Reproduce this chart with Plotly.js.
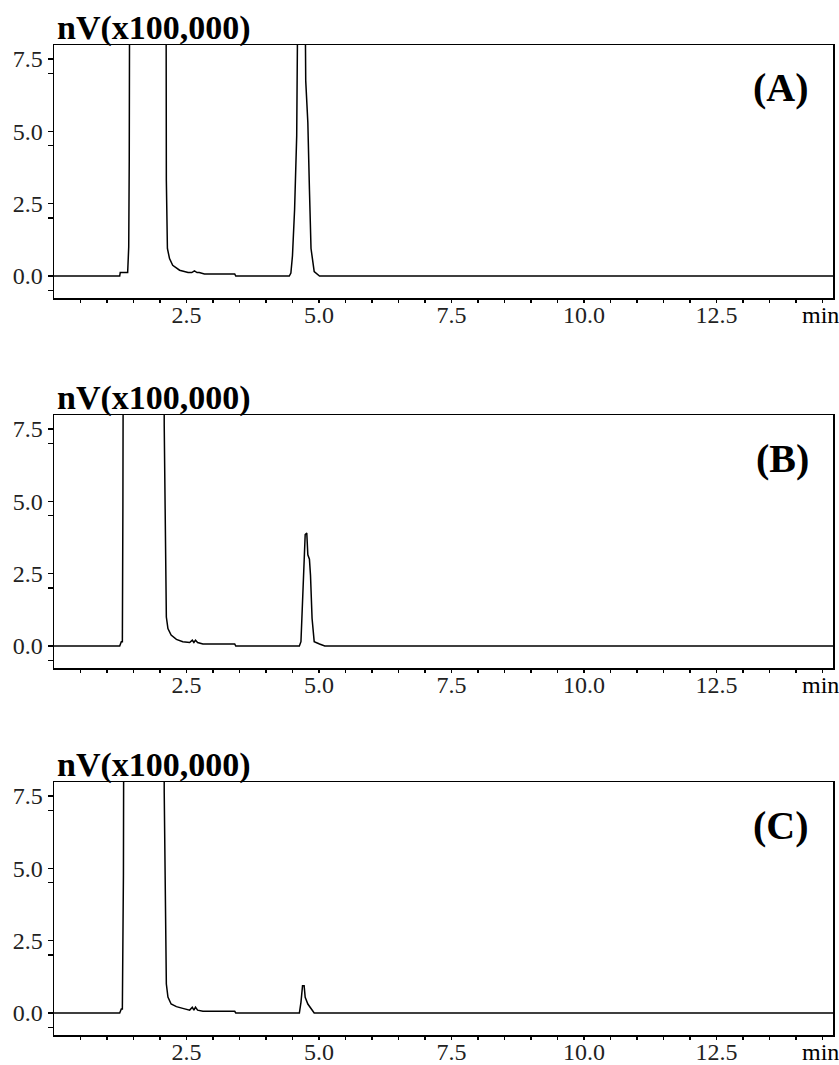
<!DOCTYPE html>
<html>
<head>
<meta charset="utf-8">
<script src="https://cdn.plot.ly/plotly-3.0.1.min.js"></script>
<style>
html,body{margin:0;padding:0;background:#fff;}
#chart{width:839px;height:1065px;}
</style>
</head>
<body>
<div id="chart"></div>
<script>
// Retention time (min) and detector signal (nV x 100,000) for each chromatogram
const timeA = [0, 1.24, 1.25, 1.39, 1.41, 1.42, 1.45, 2.10, 2.12, 2.14, 2.18, 2.24, 2.37, 2.53, 2.60, 2.65, 2.70, 2.74, 2.84, 3.41, 3.43,
               4.44, 4.47, 4.50, 4.54, 4.58, 4.61, 4.73, 4.75, 4.79, 4.82, 4.85, 4.91, 5.01, 14.7];
const signalA = [0, 0, 0.12, 0.12, 1.0, 4.0, 30, 30, 3.3, 0.95, 0.6, 0.37, 0.2, 0.12, 0.12, 0.18, 0.12, 0.12, 0.07, 0.07, 0,
                 0, 0.1, 0.7, 2.3, 4.85, 12, 12, 6.75, 5.3, 3.0, 0.95, 0.15, 0, 0];

const timeB = [0, 1.24, 1.27, 1.29, 1.30, 1.33, 2.05, 2.08, 2.12, 2.15, 2.21, 2.31, 2.43, 2.56, 2.61, 2.64, 2.67, 2.71, 2.81, 3.41, 3.43,
               4.63, 4.66, 4.68, 4.71, 4.74, 4.77, 4.79, 4.82, 4.84, 4.87, 4.91, 5.01, 5.11, 14.7];
const signalB = [0, 0, 0.15, 0.15, 4.75, 30, 30, 7.6, 1.0, 0.6, 0.38, 0.23, 0.15, 0.12, 0.2, 0.12, 0.2, 0.12, 0.07, 0.07, 0,
                 0, 0.15, 0.95, 2.6, 3.85, 3.9, 3.15, 3.0, 2.45, 0.95, 0.15, 0.07, 0, 0];

const timeC = [0, 1.24, 1.27, 1.29, 1.31, 1.34, 2.05, 2.08, 2.12, 2.15, 2.21, 2.31, 2.43, 2.56, 2.61, 2.64, 2.67, 2.71, 2.81, 3.41, 3.43,
               4.63, 4.66, 4.69, 4.72, 4.74, 4.79, 4.85, 4.91, 14.7];
const signalC = [0, 0, 0.14, 0.14, 4.74, 30, 30, 7.6, 1.0, 0.55, 0.31, 0.22, 0.16, 0.1, 0.2, 0.1, 0.2, 0.1, 0.06, 0.06, 0,
                 0, 0.37, 0.94, 0.94, 0.54, 0.31, 0.14, 0, 0];

const panelLabels = ['(A)', '(B)', '(C)'];
const yUnitLabel = 'nV(x100,000)';
const xUnitLabel = 'min';

const xTickVals = [0.5,1,1.5,2,2.5,3,3.5,4,4.5,5,5.5,6,6.5,7,7.5,8,8.5,9,9.5,10,10.5,11,11.5,12,12.5,13,13.5,14,14.5];
const xTickText = ['','','','','2.5','','','','','5.0','','','','','7.5','','','','','10.0','','','','','12.5','','','',''];
const yTickVals = [-0.5, 0, 2.0, 2.5, 4.5, 5.0, 7.0, 7.5];
const yTickText = ['', '0.0', '', '2.5', '', '5.0', '', '7.5'];

const H = 1065;
const boxes = [[45, 298], [415, 668], [782, 1035]]; // top,bottom pixel of each plot box
const series = [[timeA, signalA], [timeB, signalB], [timeC, signalC]];

const font = 'Liberation Serif, Times New Roman, serif';
const traces = [];
const layout = {
  width: 839, height: 1065,
  margin: {l: 54, r: 6, t: 0, b: 0},
  paper_bgcolor: '#fff', plot_bgcolor: '#fff',
  showlegend: false,
  annotations: []
};

series.forEach((s, i) => {
  const n = i === 0 ? '' : String(i + 1);
  traces.push({
    x: s[0], y: s[1], type: 'scatter', mode: 'lines',
    xaxis: 'x' + n, yaxis: 'y' + n,
    line: {color: '#000', width: 1.5, shape: 'linear'},
    hoverinfo: 'skip'
  });
  const [top, bot] = boxes[i];
  layout['xaxis' + n] = {
    domain: [0, 1], anchor: 'y' + n, range: [0, 14.7],
    showgrid: false, zeroline: false, showline: true, mirror: true,
    linecolor: '#000', linewidth: 1.5,
    tickmode: 'array', tickvals: xTickVals, ticktext: xTickText,
    ticks: 'outside', ticklen: 3, tickwidth: 1.5, tickcolor: '#000',
    ticklabelstandoff: -8,
    tickfont: {family: font, size: 24, color: '#222'}
  };
  layout['yaxis' + n] = {
    domain: [1 - bot / H, 1 - top / H], anchor: 'x' + n, range: [-0.76, 7.98],
    showgrid: false, zeroline: false, showline: true, mirror: true,
    linecolor: '#000', linewidth: 1.5,
    tickmode: 'array', tickvals: yTickVals, ticktext: yTickText,
    ticks: 'outside', ticklen: 5, tickwidth: 1.5, tickcolor: '#000',
    tickfont: {family: font, size: 24, color: '#222'}
  };
  layout.annotations.push({
    text: '<b>' + yUnitLabel + '</b>', xref: 'x' + n + ' domain', yref: 'y' + n + ' domain',
    x: 0, y: 1, xanchor: 'left', yanchor: 'bottom', xshift: 1, yshift: -4, showarrow: false,
    font: {family: font, size: 34, color: '#000'}
  });
  layout.annotations.push({
    text: '<b>' + panelLabels[i] + '</b>', xref: 'x' + n + ' domain', yref: 'y' + n + ' domain',
    x: 1, y: 1, xanchor: 'right', yanchor: 'middle', xshift: -22, yshift: -43, showarrow: false,
    font: {family: font, size: 40, color: '#000'}
  });
  layout.annotations.push({
    text: xUnitLabel, xref: 'x' + n + ' domain', yref: 'y' + n + ' domain',
    x: 1, y: 0, xanchor: 'right', yanchor: 'top', xshift: 8, yshift: -2, showarrow: false,
    font: {family: font, size: 24, color: '#000'}
  });
});

Plotly.newPlot('chart', traces, layout, {displayModeBar: false, staticPlot: true});
</script>
</body>
</html>
